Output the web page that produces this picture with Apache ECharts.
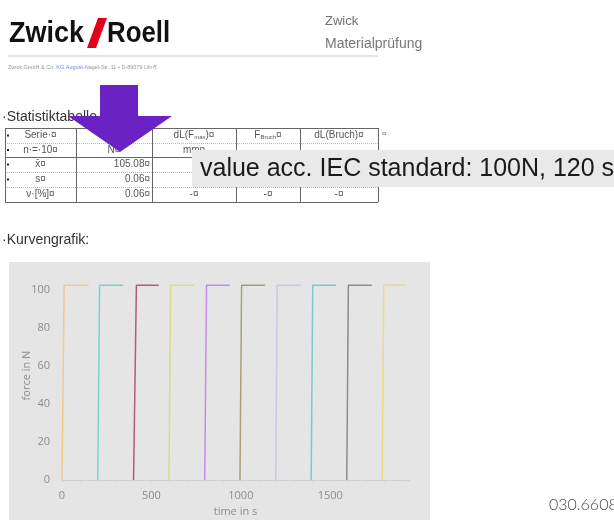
<!DOCTYPE html>
<html>
<head>
<meta charset="utf-8">
<title>Zwick Roell - Kurvengrafik</title>
<script src="https://cdn.jsdelivr.net/npm/echarts@6/dist/echarts.min.js"></script>
<style>
  html, body { margin: 0; padding: 0; background: #fff; }
  #main { width: 614px; height: 520px; }
</style>
</head>
<body>
<div id="main"></div>
<script>
// Kurvengrafik: 10 Prüfungen, Kraft über Zeit
const startTimes = [0, 200, 400, 598, 798, 995, 1195, 1393, 1592, 1790]
const peakTimes = [12, 210, 416, 607, 808, 1004, 1203, 1402, 1601, 1799]
const endTimes = [149, 342, 541, 738, 938, 1135, 1335, 1533, 1732, 1925]
const peakForce = [102.5, 102.5, 102.5, 102.5, 102.5, 102.5, 102.5, 102.5, 102.5, 102.5]
const curveColors = ['#f2c98e', '#72d6cf', '#b25a78', '#dcdc82', '#c98ae8',
  '#a8a078', '#c8c8e6', '#7ac8d2', '#8c8c8c', '#eedc80']

// Statistiktabelle
const headerRow1 = ['Serie·¤', '', 'dL(F{s|max})¤', 'F{s|Bruch}¤', 'dL(Bruch)¤']
const headerRow2 = ['n·=·10¤', 'N¤', 'mm¤', '', '']
const statLabels = ['x̄¤', 's¤', 'ν·[%]¤']
const statValues = ['105.08¤', '0.06¤', '0.06¤']
const lastRowRest = ['-¤', '-¤', '-¤']

const tableCols = [5, 76, 152, 236, 300, 378]
const tableRows = [128, 143, 157, 172, 187, 202]

const FONT = '"Liberation Sans", Arial, sans-serif'

function txt(x, y, text, opt) {
  opt = opt || {}
  return {
    type: 'text',
    x: x,
    y: y,
    z: opt.z || 10,
    scaleX: opt.scaleX || 1,
    style: {
      text: text,
      font: opt.font || ('10px ' + FONT),
      fill: opt.fill || '#555',
      align: opt.align || 'left',
      textAlign: opt.align || 'left',
      verticalAlign: 'middle',
      textVerticalAlign: 'middle',
      rich: opt.rich
    }
  }
}

function hline(x1, x2, y, color, dash) {
  return {
    type: 'line',
    z: 10,
    shape: { x1: x1, y1: y, x2: x2, y2: y },
    style: { stroke: color, lineWidth: 1, lineDash: dash || null }
  }
}

function buildTable() {
  const els = []
  const left = tableCols[0]
  const right = tableCols[tableCols.length - 1]
  // Zeilen
  tableRows.forEach((y, i) => {
    const solid = i === 0 || i === 2 || i === tableRows.length - 1
    els.push(hline(left, right, y + 0.5, solid ? '#666' : '#bbb', solid ? null : [1, 1]))
  })
  // Spalten
  tableCols.forEach(x => {
    els.push({
      type: 'line',
      z: 10,
      shape: { x1: x + 0.5, y1: tableRows[0], x2: x + 0.5, y2: tableRows[tableRows.length - 1] },
      style: { stroke: '#666', lineWidth: 1 }
    })
  })
  const mid = i => (tableRows[i] + tableRows[i + 1]) / 2
  const colMid = j => (tableCols[j] + tableCols[j + 1]) / 2
  const rich = { s: { fontSize: 6, fontFamily: 'Liberation Sans', fill: '#555', verticalAlign: 'bottom', padding: [4, 0, 0, 0] } }
  headerRow1.forEach((t, j) => {
    if (t) els.push(txt(colMid(j), mid(0), t, { align: 'center', rich: rich }))
  })
  headerRow2.forEach((t, j) => {
    if (t) els.push(txt(colMid(j), mid(1), t, { align: 'center' }))
  })
  statLabels.forEach((t, i) => {
    els.push(txt(colMid(0), mid(i + 2), t, { align: 'center' }))
    els.push(txt(tableCols[2] - 2, mid(i + 2), statValues[i], { align: 'right' }))
  })
  lastRowRest.forEach((t, j) => {
    els.push(txt(colMid(j + 2), mid(4), t, { align: 'center' }))
  })
  // Aufzählungszeichen
  for (let i = 0; i < 4; i++) {
    els.push({ type: 'rect', z: 10, shape: { x: 7, y: mid(i) - 1, width: 2, height: 2 }, style: { fill: '#222' } })
  }
  els.push(txt(right + 4, mid(0) - 2, '¤', { font: '8px ' + FONT, fill: '#777' }))
  return els
}

const series = startTimes.map((s, i) => ({
  name: 'Probe ' + (i + 1),
  type: 'line',
  showSymbol: false,
  silent: true,
  lineStyle: { width: 1.5, color: curveColors[i] },
  data: [[s, 0], [peakTimes[i], peakForce[i]], [endTimes[i], peakForce[i]]]
}))

const myChart = echarts.init(document.getElementById('main'))
myChart.setOption({
  animation: false,
  backgroundColor: '#fff',
  textStyle: { fontFamily: '"Open Sans", sans-serif' },
  grid: { left: 62, right: 205, top: 271, bottom: 40 },
  xAxis: {
    type: 'value',
    min: 0,
    max: 1940,
    interval: 100,
    name: 'time in s',
    nameLocation: 'middle',
    nameGap: 26,
    nameTextStyle: { color: '#8c8c8c', fontSize: 11 },
    axisLine: { lineStyle: { color: '#d0d0d0', width: 1 } },
    axisTick: { show: true, length: 2, lineStyle: { color: '#cfcfcf' } },
    axisLabel: {
      color: '#8c8c8c',
      fontSize: 11,
      margin: 10,
      formatter: v => (v % 500 === 0 ? String(v) : '')
    },
    splitLine: { show: false }
  },
  yAxis: {
    type: 'value',
    min: 0,
    max: 110,
    interval: 20,
    name: 'force in N',
    nameLocation: 'middle',
    nameGap: 30,
    nameMoveOverlap: false,
    nameTextStyle: { color: '#8c8c8c', fontSize: 11 },
    axisLine: { show: false },
    axisTick: { show: false },
    axisLabel: { color: '#8c8c8c', fontSize: 11, margin: 12, showMaxLabel: false },
    splitLine: { show: false }
  },
  series: series,
  graphic: {
    elements: [
      // Grafikhintergrund
      { type: 'rect', z: -1, shape: { x: 9, y: 262, width: 421, height: 260 }, style: { fill: '#e5e5e5' } },
      // Logo
      txt(9, 34, 'Zwick', { font: 'bold 30px ' + FONT, fill: '#111', scaleX: 0.9 }),
      { type: 'polygon', z: 10, shape: { points: [[87, 48], [96, 48], [107, 18], [98, 18]] }, style: { fill: '#e2001a' } },
      txt(107, 34, 'Roell', { font: 'bold 30px ' + FONT, fill: '#111', scaleX: 0.86 }),
      txt(325, 21, 'Zwick', { font: '13px ' + FONT, fill: '#707070' }),
      txt(325, 44, 'Materialprüfung', { font: '14px ' + FONT, fill: '#777' }),
      hline(8, 378, 56, '#c8c8c8'),
      txt(8, 67, 'Zwick GmbH & Co. {b|KG August}-Nagel-Str. 11 • D-89079 Ulm¶', {
        font: '5.5px ' + FONT, fill: '#999', rich: { b: { fill: '#6a8fd0', fontSize: 5.5 } }
      }),
      txt(2, 117, '·Statistiktabelle', { font: '14px ' + FONT, fill: '#333' }),
      ...buildTable(),
      // Hinweisfeld
      { type: 'rect', z: 20, shape: { x: 192, y: 150, width: 430, height: 37 }, style: { fill: '#e9e9e9' } },
      txt(200, 169, 'value acc. IEC standard: 100N, 120 s', { font: '25px ' + FONT, fill: '#1a1a1a', z: 21 }),
      // Pfeil
      { type: 'rect', z: 22, shape: { x: 100, y: 85, width: 38, height: 32 }, style: { fill: '#6b22c4' } },
      { type: 'polygon', z: 22, shape: { points: [[68, 116], [172, 116], [120, 152]] }, style: { fill: '#6b22c4' } },
      txt(2, 240, '·Kurvengrafik:', { font: '14px ' + FONT, fill: '#333' }),
      txt(549, 505, '030.6608', { font: '300 16px Lato, sans-serif', fill: '#444' })
    ]
  }
})
window.addEventListener('resize', () => {
  myChart.resize()
})
</script>
</body>
</html>
